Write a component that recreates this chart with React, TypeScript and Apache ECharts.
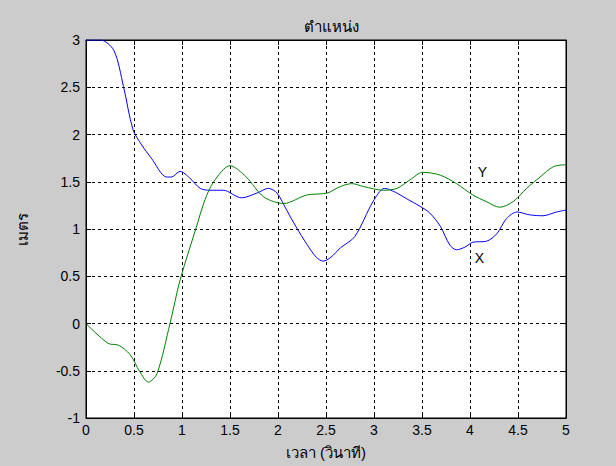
import React, { useEffect, useRef } from "react";
import * as echarts from "echarts";

const titleText = "ตำแหน่ง";
const xName = "เวลา (วินาที)";
const yName = "เมตร";

const xSeries: [number, number][] = [
  [0, 3], [0.15, 3], [0.29, 2.89], [0.39, 2.51], [0.49, 2.05], [0.58, 1.89],
  [0.68, 1.75], [0.84, 1.55], [0.89, 1.55], [0.98, 1.61], [1.08, 1.54],
  [1.19, 1.43], [1.29, 1.41], [1.43, 1.41], [1.62, 1.33], [1.78, 1.38],
  [1.9, 1.43], [1.99, 1.38], [2.09, 1.2], [2.19, 1.02], [2.3, 0.84],
  [2.4, 0.7], [2.47, 0.66], [2.55, 0.7], [2.65, 0.8], [2.8, 0.92],
  [2.99, 1.29], [3.11, 1.43], [3.22, 1.39], [3.34, 1.32], [3.48, 1.24],
  [3.58, 1.17], [3.69, 1.03], [3.79, 0.83], [3.86, 0.78], [3.95, 0.81],
  [4.03, 0.86], [4.17, 0.87], [4.28, 0.95], [4.38, 1.11], [4.49, 1.18],
  [4.62, 1.15], [4.76, 1.14], [4.9, 1.18], [5, 1.2],
];

const ySeries: [number, number][] = [
  [0, 0], [0.23, -0.21], [0.34, -0.23], [0.46, -0.33], [0.56, -0.51],
  [0.65, -0.62], [0.74, -0.53], [0.875, 0], [0.98, 0.46], [1.14, 0.99],
  [1.24, 1.31], [1.33, 1.5], [1.5, 1.67], [1.67, 1.55], [1.85, 1.34],
  [2.06, 1.27], [2.3, 1.36], [2.51, 1.38], [2.65, 1.45], [2.77, 1.48],
  [2.89, 1.45], [3.1, 1.41], [3.24, 1.43], [3.375, 1.52], [3.51, 1.6],
  [3.69, 1.57], [3.86, 1.48], [4.03, 1.36], [4.17, 1.29], [4.31, 1.23],
  [4.45, 1.29], [4.59, 1.43], [4.73, 1.55], [4.87, 1.66], [5, 1.68],
];

const labelY: [number, number] = [4.08, 1.6];
const labelX: [number, number] = [4.05, 0.69];

const FONT = "'Liberation Sans', Arial, sans-serif";

export default function App() {
  const ref = useRef<HTMLDivElement>(null);
  useEffect(() => {
    if (!ref.current) return;
    const chart = echarts.init(ref.current, undefined, { renderer: "svg" });
    const tickFont = { color: "#000", fontSize: 14, fontFamily: FONT };
    const nameFont = { fontSize: 15, fontWeight: "normal", color: "#000", fontFamily: FONT };
    chart.setOption({
      animation: false,
      backgroundColor: "#cccccc",
      title: {
        text: titleText,
        left: 326,
        textAlign: "center",
        top: 14,
        textStyle: nameFont,
      },
      grid: { left: 86, right: 50, top: 40, bottom: 48, show: true, backgroundColor: "#ffffff", borderColor: "#000", borderWidth: 1 },
      xAxis: [
        {
          type: "value", min: 0, max: 5, interval: 0.5,
          name: xName, nameLocation: "middle", nameGap: 27,
          nameTextStyle: nameFont,
          axisLine: { show: true, onZero: false, lineStyle: { color: "#000" } },
          axisTick: { show: true, inside: true, length: 5, lineStyle: { color: "#000" } },
          axisLabel: { ...tickFont, margin: 5 },
          splitLine: { show: true, lineStyle: { color: "#000", type: [3, 3], width: 1 } },
        },
        {
          type: "value", min: 0, max: 5, interval: 0.5, position: "top",
          axisLine: { show: true, onZero: false, lineStyle: { color: "#000" } },
          axisTick: { show: true, inside: true, length: 5, lineStyle: { color: "#000" } },
          axisLabel: { show: false }, splitLine: { show: false },
        },
      ],
      yAxis: [
        {
          type: "value", min: -1, max: 3, interval: 0.5,
          name: yName, nameLocation: "middle", nameGap: 56, nameRotate: 90,
          nameTextStyle: nameFont,
          axisLine: { show: true, onZero: false, lineStyle: { color: "#000" } },
          axisTick: { show: true, inside: true, length: 5, lineStyle: { color: "#000" } },
          axisLabel: { ...tickFont, margin: 6 },
          splitLine: { show: true, lineStyle: { color: "#000", type: [3, 3], width: 1 } },
        },
        {
          type: "value", min: -1, max: 3, interval: 0.5, position: "right",
          axisLine: { show: true, onZero: false, lineStyle: { color: "#000" } },
          axisTick: { show: true, inside: true, length: 5, lineStyle: { color: "#000" } },
          axisLabel: { show: false }, splitLine: { show: false },
        },
      ],
      series: [
        {
          type: "line", name: "X", data: xSeries, smooth: 0.3, symbol: "none",
          lineStyle: { color: "#0000ff", width: 1 },
          markPoint: {
            symbol: "circle", symbolSize: 0,
            data: [{ coord: labelX, label: { show: true, formatter: "X", position: "right", distance: 0, color: "#000", fontSize: 14, fontFamily: FONT } }],
          },
        },
        {
          type: "line", name: "Y", data: ySeries, smooth: 0.3, symbol: "none",
          lineStyle: { color: "#008000", width: 1 },
          markPoint: {
            symbol: "circle", symbolSize: 0,
            data: [{ coord: labelY, label: { show: true, formatter: "Y", position: "right", distance: 0, color: "#000", fontSize: 14, fontFamily: FONT } }],
          },
        },
      ],
    });
    return () => chart.dispose();
  }, []);
  return <div ref={ref} style={{ position: "fixed", left: 0, top: 0, width: 616, height: 466 }} />;
}
